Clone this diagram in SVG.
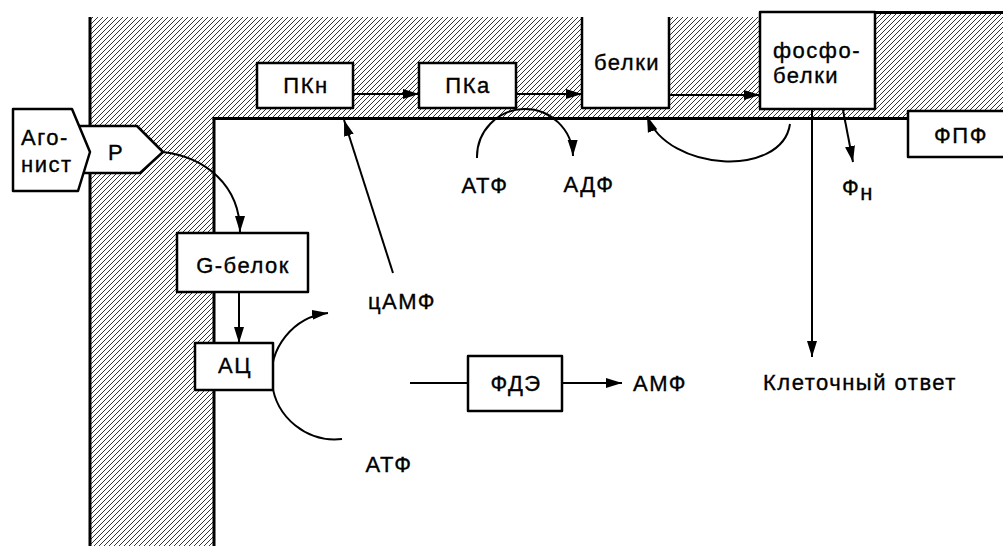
<svg xmlns="http://www.w3.org/2000/svg" width="1003" height="546" viewBox="0 0 1003 546">
<style>
.box{fill:#fff;stroke:#000;stroke-width:2.5;stroke-linejoin:round}
.wall{fill:none;stroke:#000;stroke-width:3}
.c{fill:none;stroke:#000;stroke-width:2}
.t{font-family:"Liberation Sans",Arial,sans-serif;font-size:22px;fill:#000;stroke:#000;stroke-width:0.35;letter-spacing:1.5px}
.m{text-anchor:middle}
</style>
<defs>
<pattern id="hatch" patternUnits="userSpaceOnUse" width="5" height="5">
<path d="M-1,1 L1,-1 M0,5 L5,0 M4,6 L6,4" stroke="#000" stroke-width="0.8"/>
</pattern>
<marker id="arr" markerUnits="userSpaceOnUse" markerWidth="17" markerHeight="12" refX="16" refY="6" orient="auto">
<path d="M0,1 L16,6 L0,11 Z" fill="#000"/>
</marker>
</defs>
<rect width="1003" height="546" fill="#fff"/>
<g id="membrane">
<polygon points="90,17 760,17 760,13 1003,13 1003,111 908,111 908,118 214,118 214,546 90,546" fill="url(#hatch)"/>
<line class="wall" x1="90" y1="17" x2="90" y2="546"/>
<line class="wall" x1="214" y1="118.5" x2="214" y2="546"/>
<line class="wall" x1="212.5" y1="118.5" x2="908" y2="118.5"/>
<line class="wall" x1="875" y1="12.5" x2="1003" y2="12.5" stroke-width="2.5"/>
</g>
<g id="connectors">
<path class="c" d="M163,152 C205,157 240,185 240,232" marker-end="url(#arr)"/>
<path class="c" d="M239,292 V343" marker-end="url(#arr)"/>
<path class="c" d="M353,94 H419" marker-end="url(#arr)"/>
<path class="c" d="M516,94 H582" marker-end="url(#arr)"/>
<path class="c" d="M669,95 H760" marker-end="url(#arr)"/>
<path class="c" d="M393,273 L344,120" marker-end="url(#arr)"/>
<path class="c" d="M342,439 A63,63 0 0 1 328,313" marker-end="url(#arr)"/>
<path class="c" d="M477,158 A48,48 0 0 1 573,156" marker-end="url(#arr)"/>
<path class="c" d="M790,124 C782,178 668,172 647,116" marker-end="url(#arr)"/>
<path class="c" d="M812,109 V357" marker-end="url(#arr)"/>
<path class="c" d="M843,110 L853,162" marker-end="url(#arr)"/>
<path class="c" d="M410,383 H468"/>
<path class="c" d="M562,383 H622" marker-end="url(#arr)"/>
</g>
<g id="receptor">
<polygon class="box" points="70,126 137,126 163,152 140,173 70,173"/>
<text class="t m" x="116" y="160">Р</text>
</g>
<g id="agonist">
<polygon class="box" points="13,109 72,109 90,152 78,191 13,191"/>
<text class="t" x="21" y="145" letter-spacing="0.5">Аго-</text>
<text class="t" x="21" y="172" letter-spacing="0.5">нист</text>
</g>
<g id="pkn">
<rect class="box" x="257" y="63" width="96" height="45"/>
<text class="t m" x="306" y="93">ПКн</text>
</g>
<g id="pka">
<rect class="box" x="419" y="63" width="97" height="45"/>
<text class="t m" x="468" y="93">ПКа</text>
</g>
<g id="proteins">
<rect x="582" y="17" width="87" height="91" fill="#fff"/>
<path class="box" d="M582,17 V108 H669 V17" fill="none"/>
<text class="t m" x="627" y="70">белки</text>
</g>
<g id="phosphoproteins">
<rect class="box" x="760" y="12" width="115" height="97"/>
<text class="t" x="773" y="58">фосфо-</text>
<text class="t" x="773" y="83">белки</text>
</g>
<g id="ppf">
<rect class="box" x="908" y="111" width="100" height="46"/>
<text class="t m" x="961" y="143">ФПФ</text>
</g>
<g id="gprotein">
<rect class="box" x="177" y="233" width="131" height="59"/>
<text class="t m" x="243" y="273">G-белок</text>
</g>
<g id="ac">
<rect class="box" x="195" y="343" width="78" height="47"/>
<text class="t m" x="235" y="373">АЦ</text>
</g>
<g id="pde">
<rect class="box" x="468" y="356" width="94" height="55"/>
<text class="t m" x="516" y="391">ФДЭ</text>
</g>
<g id="labels">
<text class="t m" x="402" y="309">цАМФ</text>
<text class="t m" x="389" y="472">АТФ</text>
<text class="t m" x="485" y="193">АТФ</text>
<text class="t m" x="589" y="192">АДФ</text>
<text class="t" x="633" y="391">АМФ</text>
<text class="t" x="763" y="390">Клеточный ответ</text>
<text class="t" x="842" y="195">Ф<tspan dy="5">н</tspan></text>
</g>
</svg>
